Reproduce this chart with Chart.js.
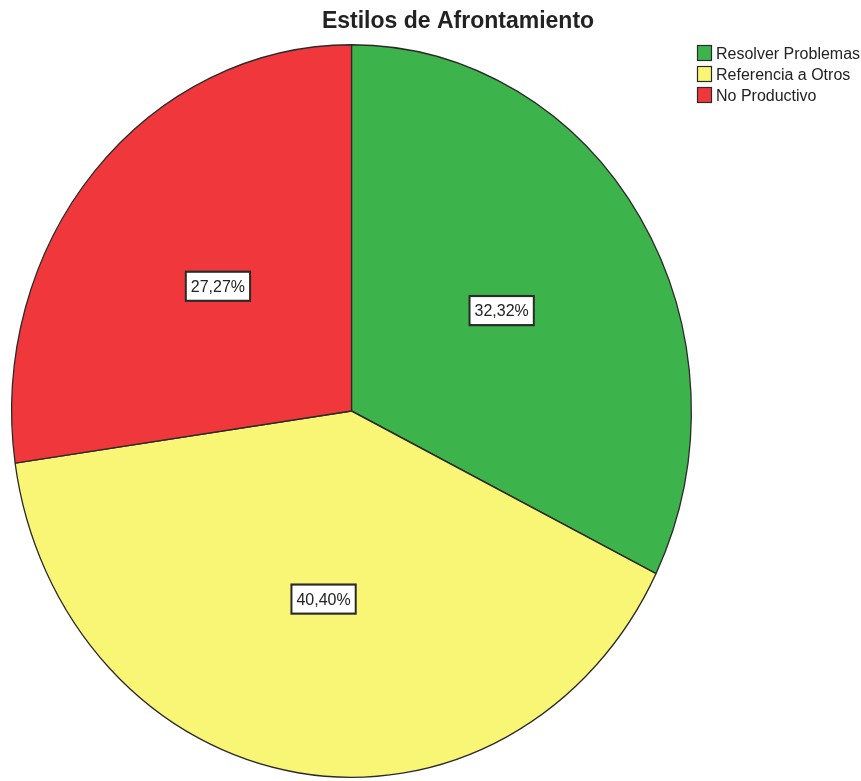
<!DOCTYPE html>
<html>
<head>
<meta charset="utf-8">
<title>Estilos de Afrontamiento</title>
<script src="https://cdn.jsdelivr.net/npm/chart.js@4.4.0/dist/chart.umd.min.js"></script>
<style>
    html, body { margin: 0; padding: 0; background: #fff; }
    #wrap { width: 861px; height: 781px; }
</style>
</head>
<body>
<div id="wrap"><canvas id="pie"></canvas></div>
<script>
// Chart data
const chartTitle = 'Estilos de Afrontamiento';
const categories = ['Resolver Problemas', 'Referencia a Otros', 'No Productivo'];
const percentages = [32.32, 40.40, 27.27];
const sliceColors = ['#3cb44b', '#faf675', '#f0383c'];

const textFont = "'Liberation Sans', Arial, sans-serif";
const textColor = '#222';
const stretchY = 367 / 340.5; // the reference pie is a bit taller than wide

function formatPct(v) {
    return v.toFixed(2).replace('.', ',') + '%';
}

// draw text stretched the same way as the pie
function stretchedText(ctx, text, x, y) {
    ctx.save();
    ctx.translate(x, y);
    ctx.scale(1, stretchY);
    ctx.fillText(text, 0, 0);
    ctx.restore();
}

// stretch the pie vertically and put the boxed % labels on it
const ellipsePlugin = {
    id: 'ellipse',
    beforeDatasetsDraw(chart) {
        const arc = chart.getDatasetMeta(0).data[0];
        const ctx = chart.ctx;
        ctx.save();
        ctx.translate(arc.x, arc.y);
        ctx.scale(1, stretchY);
        ctx.translate(-arc.x, -arc.y);
    },
    afterDatasetsDraw(chart) {
        const ctx = chart.ctx;
        const meta = chart.getDatasetMeta(0);
        ctx.font = '16px ' + textFont;
        ctx.textAlign = 'center';
        ctx.textBaseline = 'middle';
        meta.data.forEach((arc, i) => {
            const p = arc.getProps(['x', 'y', 'startAngle', 'endAngle', 'outerRadius'], true);
            const mid = (p.startAngle + p.endAngle) / 2;
            const lx = p.x + Math.cos(mid) * p.outerRadius * 0.52;
            const ly = p.y + Math.sin(mid) * p.outerRadius * 0.52;
            const label = formatPct(percentages[i]);
            const w = ctx.measureText(label).width + 10;
            const h = 27;
            ctx.fillStyle = '#fff';
            ctx.fillRect(lx - w / 2, ly - h / 2, w, h);
            ctx.lineWidth = 2;
            ctx.strokeStyle = '#2a2a2a';
            ctx.strokeRect(lx - w / 2, ly - h / 2, w, h);
            ctx.fillStyle = textColor;
            ctx.fillText(label, lx, ly + 1);
        });
        ctx.restore();
    },
    afterDraw(chart) {
        const ctx = chart.ctx;
        ctx.save();
        // title
        ctx.fillStyle = textColor;
        ctx.font = 'bold 23px ' + textFont;
        ctx.textAlign = 'center';
        ctx.textBaseline = 'middle';
        stretchedText(ctx, chartTitle, 458, 21);

        // legend
        ctx.font = '16px ' + textFont;
        ctx.textAlign = 'left';
        categories.forEach((name, i) => {
            const cy = 53 + i * 21;
            ctx.fillStyle = sliceColors[i];
            ctx.fillRect(697, cy - 8, 15, 16);
            ctx.lineWidth = 1.2;
            ctx.strokeStyle = '#2a2a2a';
            ctx.strokeRect(697.5, cy - 7.5, 14, 15);
            ctx.fillStyle = textColor;
            stretchedText(ctx, name, 716, cy + 1);
        });
        ctx.restore();
    }
};

new Chart(document.getElementById('pie'), {
    type: 'pie',
    data: {
        labels: categories,
        datasets: [{
            data: percentages,
            backgroundColor: sliceColors,
            borderColor: '#2a2a2a',
            borderWidth: 1.3
        }]
    },
    options: {
        responsive: true,
        maintainAspectRatio: false,
        animation: false,
        layout: {
            padding: { left: 11, right: 169, top: 70.5, bottom: 29.5 }
        },
        plugins: {
            legend: { display: false },
            title: { display: false },
            tooltip: { enabled: false }
        }
    },
    plugins: [ellipsePlugin]
});
</script>
</body>
</html>
